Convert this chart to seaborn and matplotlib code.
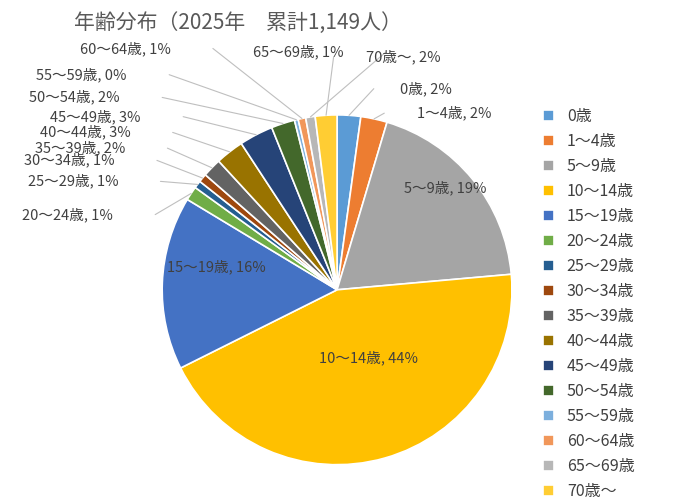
import numpy as np
import matplotlib.pyplot as plt
import seaborn as sns

sns.set_style('white')
plt.rcParams['font.family'] = 'sans-serif'
plt.rcParams['font.sans-serif'] = ['Noto Sans CJK JP', 'DejaVu Sans']

ages = ['0歳', '1～4歳', '5～9歳', '10～14歳', '15～19歳', '20～24歳', '25～29歳', '30～34歳',
        '35～39歳', '40～44歳', '45～49歳', '50～54歳', '55～59歳', '60～64歳', '65～69歳', '70歳～']
counts = [25, 28, 218, 506, 184, 15, 8, 9, 20, 30, 36, 25, 4, 8, 10, 23]
colors = ['#5B9BD5', '#ED7D31', '#A5A5A5', '#FFC000', '#4472C4', '#70AD47', '#255E91', '#9E480E',
          '#636363', '#997300', '#264478', '#43682B', '#7CAFDD', '#F1975A', '#B7B7B7', '#FFCD33']

# label positions (pie radius units)
label_pos = [(0.51, 1.15), (0.67, 1.01), (0.62, 0.58), (0.18, -0.39), (-0.69, 0.13),
             (-1.54, 0.43), (-1.51, 0.62), (-1.53, 0.74), (-1.47, 0.81), (-1.44, 0.90),
             (-1.38, 0.99), (-1.50, 1.10), (-1.46, 1.23), (-1.21, 1.38), (-0.22, 1.36), (0.38, 1.33)]
inside = {2, 3, 4}

fig = plt.figure(figsize=(6.9, 5.04), dpi=100)
ax = fig.add_axes([0.235, 0.078, 0.507, 0.694])
wedges, _ = ax.pie(counts, colors=colors, startangle=90, counterclock=False,
                   wedgeprops=dict(edgecolor='white', linewidth=1.2))
ax.set_xlim(-1, 1)
ax.set_ylim(-1, 1)

total = sum(counts)
for i, w in enumerate(wedges):
    pct = round(counts[i] / total * 100)
    txt = f'{ages[i]}, {pct}%'
    x, y = label_pos[i]
    t = ax.text(x, y, txt, ha='center', va='center', fontsize=10.5, color='#404040', clip_on=False)
    if i not in inside:
        a = np.deg2rad((w.theta1 + w.theta2) / 2)
        ex, ey = np.cos(a), np.sin(a)
        half = len(txt) * 0.05
        tx = x - half if x > ex else x + half
        ax.plot([ex, tx], [ey, y], color='#BFBFBF', lw=0.8, clip_on=False)

ax.legend(wedges, ages, loc='center left', bbox_to_anchor=(1.07, 0.46), frameon=False,
          fontsize=11.5, handlelength=0.7, handleheight=0.7, labelspacing=0.5,
          labelcolor='#404040', borderaxespad=0)

fig.text(0.345, 0.955, '年齢分布（2025年　累計1,149人）', ha='center', va='center',
         fontsize=15, color='#595959')

fig.savefig('out.png', dpi=100)
